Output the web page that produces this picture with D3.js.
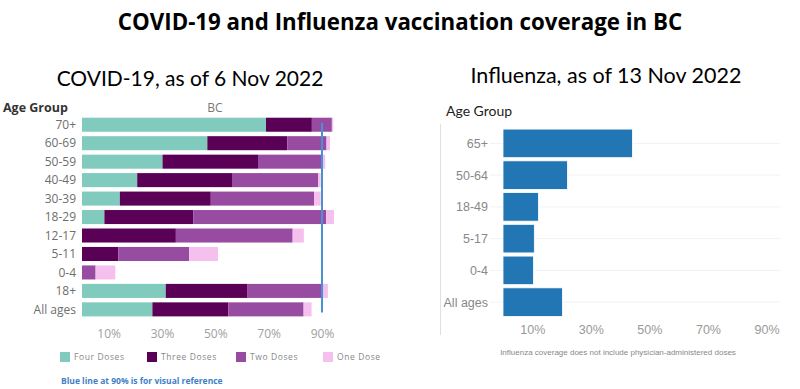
<!DOCTYPE html>
<html>
<head>
<meta charset="utf-8">
<script src="https://cdn.jsdelivr.net/npm/d3@7"></script>
<style>
  body { margin: 0; background: #fff; }
  svg { display: block; }
</style>
</head>
<body>
<svg width="800" height="389"></svg>
<script>
let width = 800, height = 389;

let svg = d3.select("svg")

// COVID-19 data (percent of population, by doses)
covidGroups = ["70+", "60-69", "50-59", "40-49", "30-39", "18-29", "12-17", "5-11", "0-4", "18+", "All ages"]
doseKeys = ["Four Doses", "Three Doses", "Two Doses", "One Dose"]
fourDoses  = [69.0, 47.0, 30.2, 20.7, 14.2, 8.4, 0, 0, 0, 31.4, 26.4]
threeDoses = [17.2, 30.0, 35.8, 35.8, 34.1, 33.3, 35.2, 13.6, 0, 30.7, 28.5]
twoDoses   = [7.5, 14.7, 24.2, 32.0, 38.7, 49.8, 43.8, 26.6, 5.1, 28.4, 28.2]
oneDose    = [0.5, 1.3, 1.0, 1.0, 2.5, 3.0, 4.2, 10.8, 7.4, 1.7, 3.0]
covidTicks = [10, 30, 50, 70, 90]
referenceLine = 90

// Influenza data
fluGroups = ["65+", "50-64", "18-49", "5-17", "0-4", "All ages"]
fluCoverage = [44.2, 22.0, 12.1, 10.7, 10.4, 20.3]
fluTicks = [10, 30, 50, 70, 90]

// Title
svg.append("text")
    .attr("x", 400)
    .attr("y", 30)
    .attr("text-anchor", "middle")
    .style("font-family", "'Open Sans', sans-serif")
    .style("font-weight", "bold")
    .style("font-size", "22.3px")
    .text("COVID-19 and Influenza vaccination coverage in BC");

svg.append("text")
    .attr("x", 190)
    .attr("y", 86)
    .attr("text-anchor", "middle")
    .style("font-family", "Lato, sans-serif")
    .style("font-size", "21px")
    .text("COVID-19, as of 6 Nov 2022");

svg.append("text")
    .attr("x", 606)
    .attr("y", 83)
    .attr("text-anchor", "middle")
    .style("font-family", "Lato, sans-serif")
    .style("font-size", "21.5px")
    .text("Influenza, as of 13 Nov 2022");

// ---------- COVID chart ----------
let covidRows = covidGroups.map((g, i) => ({
    group: g,
    "Four Doses": fourDoses[i],
    "Three Doses": threeDoses[i],
    "Two Doses": twoDoses[i],
    "One Dose": oneDose[i]
}));

let doseColor = d3.scaleOrdinal()
    .domain(doseKeys)
    .range(["#80cbbd", "#5a0057", "#974ba1", "#f6c0ee"]);

let cx = d3.scaleLinear().domain([0, 90]).range([82, 322]);
let cy = d3.scaleBand()
    .domain(covidGroups)
    .range([115.5, 318.6])
    .paddingInner(0.24)
    .paddingOuter(0.12);

let stacked = d3.stack().keys(doseKeys)(covidRows);

svg.append("g").selectAll("g")
    .data(stacked)
    .enter().append("g")
    .attr("fill", d => doseColor(d.key))
    .selectAll("rect")
    .data(d => d)
    .enter().append("rect")
    .attr("x", d => cx(d[0]))
    .attr("y", d => cy(d.data.group))
    .attr("width", d => cx(d[1]) - cx(d[0]))
    .attr("height", cy.bandwidth());

// reference line
svg.append("line")
    .attr("x1", cx(referenceLine))
    .attr("x2", cx(referenceLine))
    .attr("y1", cy("70+") + 5)
    .attr("y2", cy("All ages") + cy.bandwidth() - 4)
    .attr("stroke", "#4a90d6")
    .attr("stroke-width", 2);

svg.append("g").selectAll("text")
    .data(covidGroups)
    .enter().append("text")
    .attr("x", 76)
    .attr("y", d => cy(d) + cy.bandwidth() / 2)
    .attr("dy", "0.35em")
    .attr("text-anchor", "end")
    .style("font-family", "'Open Sans', sans-serif")
    .style("font-size", "12px")
    .style("fill", "#6e6e6e")
    .text(d => d);

svg.append("text")
    .attr("x", 3)
    .attr("y", 112)
    .style("font-family", "'Open Sans', sans-serif")
    .style("font-weight", "bold")
    .style("font-size", "12.5px")
    .style("fill", "#333")
    .text("Age Group");

svg.append("text")
    .attr("x", 215)
    .attr("y", 112)
    .attr("text-anchor", "middle")
    .style("font-family", "'Open Sans', sans-serif")
    .style("font-size", "12px")
    .style("fill", "#777")
    .text("BC");

let covidAxis = svg.append("g")
    .attr("transform", "translate(0,326)")
    .call(d3.axisBottom(cx).tickValues(covidTicks).tickFormat(d => d + "%").tickSize(0));
covidAxis.select(".domain").remove();
covidAxis.selectAll("text")
    .attr("dy", "0.71em")
    .style("font-family", "'Open Sans', sans-serif")
    .style("font-size", "12px")
    .style("fill", "#a0a0a0");

// legend
let legendX = [60, 147, 236, 323];
let legend = svg.append("g").selectAll("g")
    .data(doseKeys)
    .enter().append("g")
    .attr("transform", (d, i) => "translate(" + legendX[i] + ",352)");
legend.append("rect")
    .attr("width", 10)
    .attr("height", 10)
    .attr("fill", d => doseColor(d));
legend.append("text")
    .attr("x", 14)
    .attr("y", 5)
    .attr("dy", "0.35em")
    .style("font-family", "'Open Sans', sans-serif")
    .style("font-size", "8.5px")
    .style("letter-spacing", "0.6px")
    .style("fill", "#888")
    .text(d => d);

svg.append("text")
    .attr("x", 61)
    .attr("y", 384)
    .style("font-family", "'Open Sans', sans-serif")
    .style("font-weight", "bold")
    .style("font-size", "8.5px")
    .style("fill", "#3f7fc8")
    .text("Blue line at 90% is for visual reference");

// ---------- Influenza chart ----------
let fx = d3.scaleLinear().domain([0, 90]).range([503, 766.5]);
let fy = d3.scaleBand()
    .domain(fluGroups)
    .range([127.5, 318])
    .paddingInner(0.1)
    .paddingOuter(0.05);

// gridlines
svg.append("g").selectAll("line")
    .data(fluGroups)
    .enter().append("line")
    .attr("x1", 490)
    .attr("x2", 780)
    .attr("y1", d => fy(d) + fy.bandwidth() / 2)
    .attr("y2", d => fy(d) + fy.bandwidth() / 2)
    .attr("stroke", "#f2f2f2");

svg.append("line")
    .attr("x1", 440.5)
    .attr("x2", 440.5)
    .attr("y1", 124)
    .attr("y2", 335)
    .attr("stroke", "#e0e0e0");

svg.append("g").selectAll("rect")
    .data(fluGroups)
    .enter().append("rect")
    .attr("x", fx(0))
    .attr("y", d => fy(d))
    .attr("width", (d, i) => fx(fluCoverage[i]) - fx(0))
    .attr("height", fy.bandwidth())
    .attr("fill", "#2176b3")
    .attr("stroke", "#fff")
    .attr("stroke-width", 0.8);

svg.append("g").selectAll("text")
    .data(fluGroups)
    .enter().append("text")
    .attr("x", 488)
    .attr("y", d => fy(d) + fy.bandwidth() / 2)
    .attr("dy", "0.35em")
    .attr("text-anchor", "end")
    .style("font-family", "'Liberation Sans', Arial, sans-serif")
    .style("font-size", "12.5px")
    .style("fill", "#888")
    .text(d => d);

svg.append("text")
    .attr("x", 446)
    .attr("y", 116)
    .style("font-family", "Lato, sans-serif")
    .style("font-size", "14px")
    .style("fill", "#222")
    .text("Age Group");

let fluAxis = svg.append("g")
    .attr("transform", "translate(0,322)")
    .call(d3.axisBottom(fx).tickValues(fluTicks).tickFormat(d => d + "%").tickSize(0));
fluAxis.select(".domain").remove();
fluAxis.selectAll("text")
    .attr("dy", "0.71em")
    .style("font-family", "'Liberation Sans', Arial, sans-serif")
    .style("font-size", "12.5px")
    .style("fill", "#999");

svg.append("text")
    .attr("x", 618)
    .attr("y", 355)
    .attr("text-anchor", "middle")
    .style("font-family", "'Liberation Sans', Arial, sans-serif")
    .style("font-size", "8px")
    .style("fill", "#888")
    .text("Influenza coverage does not include physician-administered doses");
</script>
</body>
</html>
